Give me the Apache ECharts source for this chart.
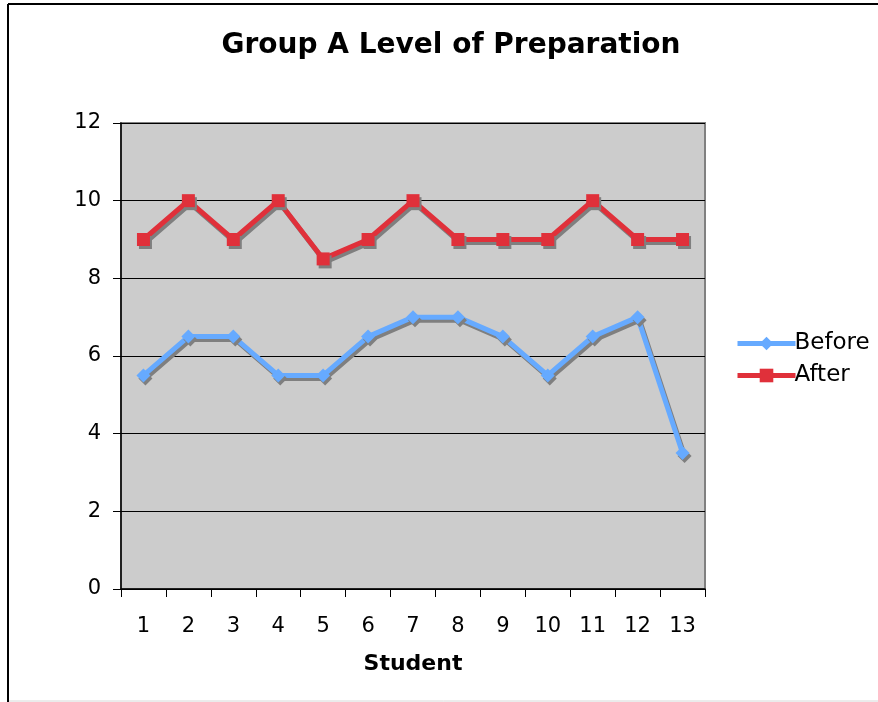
<!DOCTYPE html>
<html>
<head>
<meta charset="utf-8">
<script src="https://cdn.jsdelivr.net/npm/echarts@6/dist/echarts.min.js"></script>
<style>
html,body{margin:0;padding:0;background:#fff;}
#chart{width:878px;height:702px;}
</style>
</head>
<body>
<div id="chart"></div>
<script>
// Students and their preparation scores
const students = ['1','2','3','4','5','6','7','8','9','10','11','12','13'];
const before = [5.5, 6.5, 6.5, 5.5, 5.5, 6.5, 7, 7, 6.5, 5.5, 6.5, 7, 3.5];
const after = [9, 10, 9, 10, 8.5, 9, 10, 9, 9, 9, 10, 9, 9];
const yTicks = [0, 2, 4, 6, 8, 10, 12];

const FONT = 'DejaVu Sans';
const chart = echarts.init(document.getElementById('chart'), null, {renderer: 'canvas'});

const shadow = {shadowColor: '#7f7f7f', shadowBlur: 0, shadowOffsetX: 2, shadowOffsetY: 3};

chart.setOption({
  animation: false,
  backgroundColor: '#ffffff',
  title: {
    text: 'Group A Level of Preparation',
    left: 446, top: 27, textAlign: 'center',
    textStyle: {fontFamily: FONT, fontSize: 28, fontWeight: 'bold', color: '#000'}
  },
  legend: {
    orient: 'vertical',
    left: 730, top: 327,
    itemWidth: 58, itemHeight: 17, itemGap: 9,
    lineStyle: {width: 5, shadowColor: 'transparent', shadowOffsetX: 0, shadowOffsetY: 0},
    itemStyle: {shadowColor: 'transparent', shadowOffsetX: 0, shadowOffsetY: 0},
    textStyle: {fontFamily: FONT, fontSize: 23, color: '#000', padding: [0, 0, 0, -6]},
    data: ['Before', 'After']
  },
  grid: {left: 121, top: 123, right: 173, bottom: 113, show: true,
         backgroundColor: '#cccccc', borderColor: '#808080', borderWidth: 2},
  graphic: [
    {type: 'line', shape: {x1: 8, y1: 4, x2: 878, y2: 4}, style: {stroke: '#000', lineWidth: 2}},
    {type: 'line', shape: {x1: 8, y1: 4, x2: 8, y2: 702}, style: {stroke: '#000', lineWidth: 2}},
    {type: 'line', shape: {x1: 9, y1: 701, x2: 878, y2: 701}, style: {stroke: '#d8d8d8', lineWidth: 1}}
  ],
  xAxis: {
    type: 'category',
    data: students,
    boundaryGap: true,
    name: 'Student',
    nameLocation: 'middle',
    nameGap: 64,
    nameTextStyle: {fontFamily: FONT, fontSize: 22, fontWeight: 'bold', color: '#000'},
    axisLine: {lineStyle: {color: '#000', width: 1.5}},
    axisTick: {show: true, length: 8, alignWithLabel: false, lineStyle: {color: '#000'}},
    axisLabel: {fontFamily: FONT, fontSize: 21, color: '#000', margin: 27}
  },
  yAxis: {
    type: 'value',
    min: yTicks[0], max: yTicks[yTicks.length - 1], interval: 2,
    axisLine: {show: true, lineStyle: {color: '#000', width: 1.5}},
    axisTick: {show: true, length: 8, inside: false, lineStyle: {color: '#000'}},
    axisLabel: {fontFamily: FONT, fontSize: 21, color: '#000', margin: 20},
    splitLine: {show: true, lineStyle: {color: '#000', width: 1}}
  },
  series: [
    {
      name: 'Before', type: 'line', data: before,
      symbol: 'diamond', symbolSize: 14,
      color: '#66aaff',
      lineStyle: Object.assign({width: 5, color: '#66aaff'}, shadow),
      itemStyle: Object.assign({color: '#66aaff'}, shadow)
    },
    {
      name: 'After', type: 'line', data: after,
      symbol: 'rect', symbolSize: 13,
      color: '#e0303a',
      lineStyle: Object.assign({width: 5, color: '#e0303a'}, shadow),
      itemStyle: Object.assign({color: '#e0303a'}, shadow)
    }
  ]
});
</script>
</body>
</html>
